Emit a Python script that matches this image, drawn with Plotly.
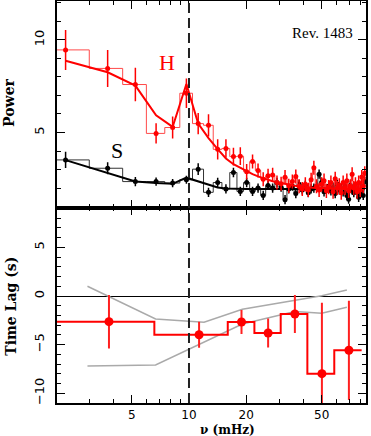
import plotly.graph_objects as go
from plotly.subplots import make_subplots

# Fourier frequencies (mHz) of the power spectra
freq = [2.24, 3.73, 5.22, 6.71, 8.20, 9.69, 11.18, 12.67, 14.16, 15.65,
        17.14, 18.63, 20.12, 21.61, 23.10, 24.59, 26.08, 27.57, 29.06, 30.55,
        32.04, 33.53, 35.02, 36.51, 38.00, 39.49, 40.98, 42.47, 43.96, 45.45,
        46.94, 48.43, 49.92, 51.41, 52.90, 54.39, 55.88, 57.37, 58.86, 60.35,
        61.84, 63.33, 64.82, 66.31, 67.80, 69.29, 70.78, 72.27, 73.76, 75.25,
        76.74, 78.23, 79.72, 81.21, 82.70, 84.19]

# hard band (H) power
power_h = [9.46, 8.46, 7.59, 4.95, 5.27, 7.12, 5.48, 5.39, 4.09, 4.14,
           3.70, 3.72, 2.88, 3.43, 2.95, 2.48, 2.66, 2.71, 2.30, 2.23,
           2.59, 2.12, 2.35, 2.62, 2.10, 1.95, 2.20, 1.90, 2.45, 3.10,
           2.10, 1.90, 2.20, 2.40, 1.85, 2.05, 2.30, 1.80, 2.50, 2.00,
           2.15, 1.75, 2.30, 2.00, 2.40, 1.85, 2.10, 2.75, 2.00, 2.20,
           1.80, 2.30, 1.90, 2.60, 2.10, 2.80]
err_h = [1.08, 1.00, 0.90, 0.55, 0.60, 0.80, 0.57, 0.60, 0.55, 0.50,
         0.48, 0.48, 0.42] + [0.38] * 43
model_h = [8.87, 8.25, 7.53, 5.93, 5.30, 7.62, 5.48, 4.70, 4.10, 3.60,
           3.29, 3.10, 2.89, 2.75, 2.63, 2.53, 2.45, 2.37, 2.31, 2.26,
           2.21, 2.17, 2.13, 2.10, 2.08, 2.06, 2.04, 2.03, 2.02, 2.01,
           2.00, 2.00, 1.99, 1.99, 1.99, 1.98, 1.98, 1.98, 1.98, 1.97,
           1.97, 1.97, 1.97, 1.97, 1.97, 1.96, 1.96, 1.96, 1.96, 1.96,
           1.96, 1.96, 1.96, 1.96, 1.96, 1.96]

# soft band (S) power
power_s = [3.52, 3.07, 2.35, 2.35, 2.27, 2.45, 3.02, 1.77, 2.30, 1.95,
           2.84, 1.82, 2.30, 1.82, 2.00, 1.60, 2.14, 2.00, 2.30, 2.05,
           1.37, 1.95, 2.10, 1.70, 2.20, 1.90, 2.15, 1.75, 1.95, 2.00,
           2.10, 2.75, 2.30, 1.80, 1.95, 2.10, 1.85, 2.05, 1.70, 2.20,
           1.90, 2.00, 1.80, 2.10, 1.60, 1.40, 2.15, 1.90, 1.75, 2.00,
           1.85, 1.50, 2.10, 1.90, 1.60, 2.35]
err_s = [0.44, 0.33, 0.25, 0.22, 0.22, 0.22, 0.32] + [0.25] * 49
model_s = [3.51, 2.80, 2.35, 2.27, 2.23, 2.56, 2.35, 2.18, 2.03, 1.98,
           1.96] + [1.95] * 45

# time lag spectrum
lag_freq = [3.79, 11.3, 18.9, 26.1, 36.1, 50.1, 69.5]
lag_edges = [1.9, 6.57, 16.0, 22.1, 30.4, 42.0, 58.2, 81.1]
lag = [-2.64, -3.98, -2.67, -3.80, -1.85, -7.98, -5.58]
lag_err = [2.75, 1.33, 1.23, 1.50, 1.95, 7.30, 5.10]

# grey envelope
env_hi_f = [2.92, 6.67, 12.0, 19.1, 50.0, 67.8]
env_hi = [1.0, -2.36, -2.70, -1.37, 0.03, 0.62]
env_lo_f = [2.92, 6.67, 19.1, 36.1, 50.0, 67.8]
env_lo = [-7.20, -7.09, -2.88, -1.60, -1.78, -1.16]

QPO_FREQ = 10


def step_edges(f):
    """bin edges halfway between frequencies"""
    mids = [(a + b) / 2 for a, b in zip(f[:-1], f[1:])]
    return [f[0] - (f[1] - f[0]) / 2] + mids + [f[-1] + (f[-1] - f[-2]) / 2]


fig = make_subplots(rows=2, cols=1, shared_xaxes=True, vertical_spacing=0,
                    row_heights=[0.5137, 0.4863])

edges = step_edges(freq)

# S spectrum
fig.add_trace(go.Scatter(x=edges, y=power_s + [power_s[-1]], mode='lines',
                         line=dict(color='#333333', width=1, shape='hv')), row=1, col=1)
fig.add_trace(go.Scatter(x=freq, y=model_s, mode='lines',
                         line=dict(color='black', width=2)), row=1, col=1)
fig.add_trace(go.Scatter(x=freq, y=power_s, mode='markers',
                         marker=dict(color='black', size=5),
                         error_y=dict(type='data', array=err_s, color='black',
                                      thickness=1.5, width=0)), row=1, col=1)

# H spectrum
fig.add_trace(go.Scatter(x=edges, y=power_h + [power_h[-1]], mode='lines',
                         line=dict(color='#ff4a4a', width=1, shape='hv')), row=1, col=1)
fig.add_trace(go.Scatter(x=freq, y=model_h, mode='lines',
                         line=dict(color='#ff0000', width=2)), row=1, col=1)
fig.add_trace(go.Scatter(x=freq, y=power_h, mode='markers',
                         marker=dict(color='#ff0000', size=5),
                         error_y=dict(type='data', array=err_h, color='#ff0000',
                                      thickness=1.5, width=0)), row=1, col=1)

# lag panel
fig.add_trace(go.Scatter(x=env_hi_f, y=env_hi, mode='lines',
                         line=dict(color='#aaaaaa', width=1.5)), row=2, col=1)
fig.add_trace(go.Scatter(x=env_lo_f, y=env_lo, mode='lines',
                         line=dict(color='#aaaaaa', width=1.5)), row=2, col=1)
fig.add_trace(go.Scatter(x=lag_edges, y=lag + [lag[-1]], mode='lines',
                         line=dict(color='#ff0000', width=2, shape='hv')), row=2, col=1)
fig.add_trace(go.Scatter(x=lag_freq, y=lag, mode='markers',
                         marker=dict(color='#ff0000', size=9),
                         error_y=dict(type='data', array=lag_err, color='#ff2020',
                                      thickness=2, width=0)), row=2, col=1)

fig.add_shape(type='line', xref='x', yref='paper', x0=QPO_FREQ, x1=QPO_FREQ, y0=0, y1=1,
              line=dict(color='#222222', width=2, dash='10px,5px'))

tick_font = dict(family='DejaVu Sans', size=13, color='black')
minor_x = [2, 3, 4, 6, 7, 8, 9, 30, 40, 60, 70, 80]
xaxis_common = dict(type='log', range=[0.305, 1.932], showline=True, linecolor='black',
                    linewidth=1.8, mirror='allticks', ticks='inside', ticklen=8,
                    tickcolor='black', tickwidth=1.2, tickmode='array',
                    tickvals=[5, 10, 20, 50], ticktext=['5', '10', '20', '50'],
                    showgrid=False, zeroline=False,
                    tickfont=dict(family='DejaVu Sans', size=12, color='black'),
                    automargin=False, ticklabelstandoff=0,
                    minor=dict(tickmode='array', tickvals=minor_x, ticks='inside',
                               ticklen=4, tickcolor='black', showgrid=False))
fig.update_xaxes(**xaxis_common)
fig.update_xaxes(showticklabels=False, row=1, col=1)

yaxis_common = dict(showline=True, linecolor='black', linewidth=1.8, mirror='allticks',
                    ticks='inside', ticklen=8, tickcolor='black', tickwidth=1.2,
                    showgrid=False, tickangle=-90, tickfont=tick_font,
                    ticklabelstandoff=6, automargin=False,
                    minor=dict(tickmode='linear', tick0=0, dtick=1, ticks='inside',
                               ticklen=4, tickcolor='black', showgrid=False))
fig.update_yaxes(**yaxis_common)
fig.update_yaxes(range=[0.95, 12.1], tickmode='array', tickvals=[5, 10],
                 zeroline=False, row=1, col=1)
fig.update_yaxes(range=[-11, 9.1], tickmode='array', tickvals=[-10, -5, 0, 5],
                 ticktext=['−10', '−5', '0', '5'],
                 zeroline=True, zerolinecolor='black', zerolinewidth=1, row=2, col=1)

label_font = dict(family='DejaVu Serif', size=14, color='black')
fig.update_layout(
    width=371, height=436,
    margin=dict(l=57, r=5, t=1, b=33),
    showlegend=False,
    plot_bgcolor='white', paper_bgcolor='white',
    annotations=[
        dict(text='<b>Power</b>', x=-0.156, y=0.746, xref='paper', yref='paper',
             xanchor='center', yanchor='middle',
             textangle=-90, showarrow=False, font=label_font),
        dict(text='<b>Time Lag (s)</b>', x=-0.15, y=0.241, xref='paper', yref='paper',
             xanchor='center', yanchor='middle',
             textangle=-90, showarrow=False, font=label_font),
        dict(text='<b>ν (mHz)</b>', x=0.552, y=-0.066, xref='paper', yref='paper',
             xanchor='center', yanchor='middle',
             showarrow=False, font=dict(family='DejaVu Serif', size=12, color='black')),
        dict(text='Rev. 1483', x=0.964, y=0.92, xref='paper', yref='paper',
             xanchor='right', yanchor='middle', showarrow=False,
             font=dict(family='Liberation Serif', size=15, color='black')),
        dict(text='H', x=0.356, y=0.848, xref='paper', yref='paper', showarrow=False,
             xanchor='center', yanchor='middle',
             font=dict(family='Liberation Serif', size=22, color='#ff0000')),
        dict(text='S', x=0.194, y=0.629, xref='paper', yref='paper', showarrow=False,
             xanchor='center', yanchor='middle',
             font=dict(family='Liberation Serif', size=22, color='black')),
    ],
)

fig.write_html("out.html", config={'displayModeBar': False},
               post_script="document.body.style.margin='0px';")
